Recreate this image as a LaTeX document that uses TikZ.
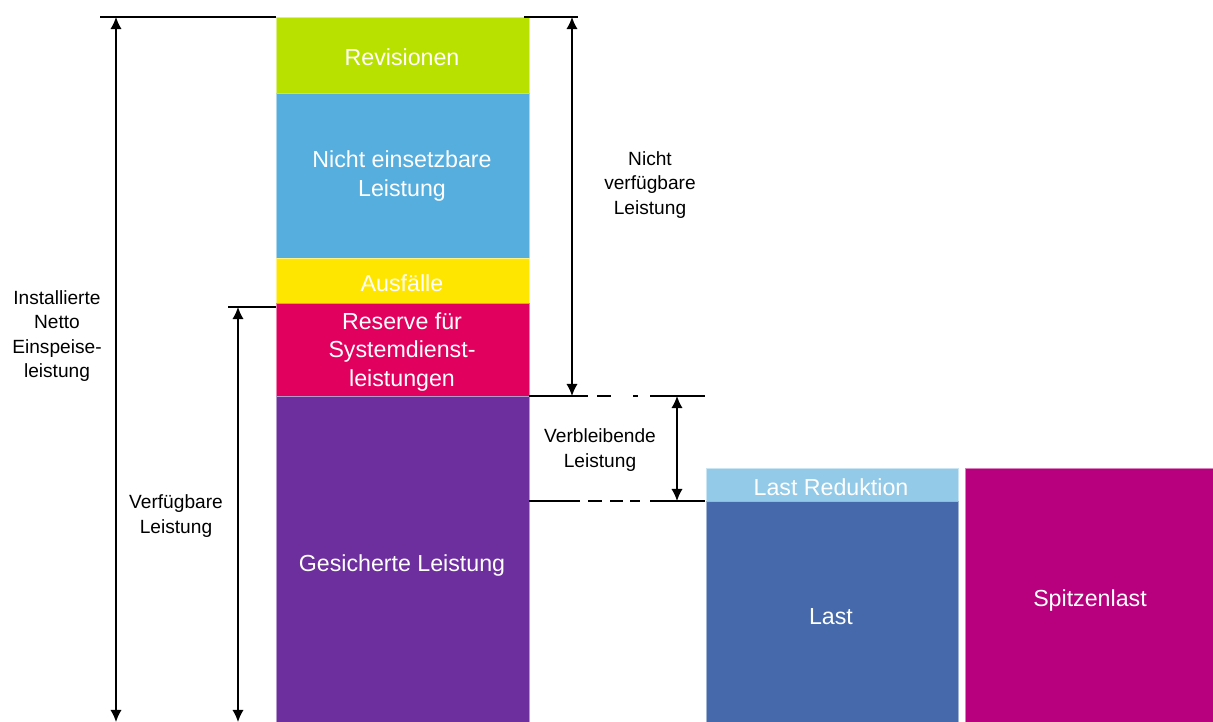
\documentclass[tikz,border=0pt]{standalone}
\usepackage{fontspec}
\setmainfont{Liberation Sans}
\usetikzlibrary{arrows.meta}
\definecolor{revgreen}{HTML}{B8E100}
\definecolor{nichtblue}{HTML}{55AEDE}
\definecolor{ausyellow}{HTML}{FFE600}
\definecolor{resmagenta}{HTML}{E2005F}
\definecolor{gespurple}{HTML}{6E2F9E}
\definecolor{redblue}{HTML}{93CAE8}
\definecolor{lastblue}{HTML}{4569AA}
\definecolor{spitzpink}{HTML}{B8007E}
\tikzset{
  seg/.style={line width=0.6pt},
  inlbl/.style={text=white, align=center, font=\fontsize{16.5}{20}\selectfont},
  outlbl/.style={text=black, align=center, font=\fontsize{13.6}{17.5}\selectfont},
  level/.style={line width=1.8pt},
  dim/.style={line width=1pt, {Latex[length=3mm,width=2.8mm]}-{Latex[length=3mm,width=2.8mm]}}
}
\begin{document}
\begin{tikzpicture}[x=0.025cm, y=-0.025cm]
	\useasboundingbox (0,0) rectangle (1213,722);
	% stacked capacity bar
	\draw[seg, draw=revgreen!50!white, fill=revgreen] (276,17) rectangle (529,93);
	\draw[seg, draw=nichtblue!50!white, fill=nichtblue] (276,93) rectangle (529,258);
	\draw[seg, draw=ausyellow!50!white, fill=ausyellow] (276,258) rectangle (529,303);
	\draw[seg, draw=resmagenta!50!white, fill=resmagenta] (276,303) rectangle (529,396);
	\draw[seg, draw=gespurple!50!white, fill=gespurple] (276,396) rectangle (529,724);
	\node[inlbl] (rev) at (402,57) {Revisionen};
	\node[inlbl] (nicht) at (402,176) {Nicht einsetzbare\\Leistung};
	\node[inlbl] (aus) at (402,283) {Ausfälle};
	\node[inlbl] (res) at (402,352) {Reserve für\\Systemdienst-\\leistungen};
	\node[inlbl] (ges) at (402,565) {Gesicherte Leistung};
	% load bars
	\draw[seg, draw=redblue!50!white, fill=redblue] (706,468) rectangle (958,501);
	\draw[seg, draw=lastblue!50!white, fill=lastblue] (706,501) rectangle (958,724);
	\draw[seg, draw=spitzpink!50!white, fill=spitzpink] (965,468) rectangle (1215,724);
	\node[inlbl] (red) at (831,487) {Last Reduktion};
	\node[inlbl] (last) at (831,617) {Last};
	\node[inlbl] (spitz) at (1090,600) {Spitzenlast};
	% level lines
	\coordinate (topL) at (116,17);
	\coordinate (botL) at (116,722);
	\coordinate (topV) at (238,307);
	\coordinate (botV) at (238,722);
	\coordinate (topN) at (572,17);
	\coordinate (botN) at (572,396);
	\coordinate (topR) at (677,396);
	\coordinate (botR) at (677,501);
	\draw[level] (100,17) -- (276,17);
	\draw[level] (524,17) -- (578,17);
	\draw[level] (228,307) -- (276,307);
	\draw[level] (529,396) -- (588,396);
	\draw[level] (597,396) -- (611,396);
	\draw[level] (633,396) -- (638,396);
	\draw[level] (650,396) -- (705,396);
	\draw[level] (529,501) -- (580,501);
	\draw[level] (588,501) -- (602,501);
	\draw[level] (610,501) -- (623,501);
	\draw[level] (630,501) -- (640,501);
	\draw[level] (650,501) -- (705,501);
	% dimension arrows
	\draw[dim] (topL) -- (botL);
	\draw[dim] (topV) -- (botV);
	\draw[dim] (topN) -- (botN);
	\draw[dim] (topR) -- (botR);
	\node[outlbl] (inst) at (57,336) {Installierte\\Netto\\Einspeise-\\leistung};
	\node[outlbl] (verf) at (176,516) {Verfügbare\\Leistung};
	\node[outlbl] (nverf) at (650,185) {Nicht\\verfügbare\\Leistung};
	\node[outlbl] (verb) at (600,450) {Verbleibende\\Leistung};
\end{tikzpicture}
\end{document}
